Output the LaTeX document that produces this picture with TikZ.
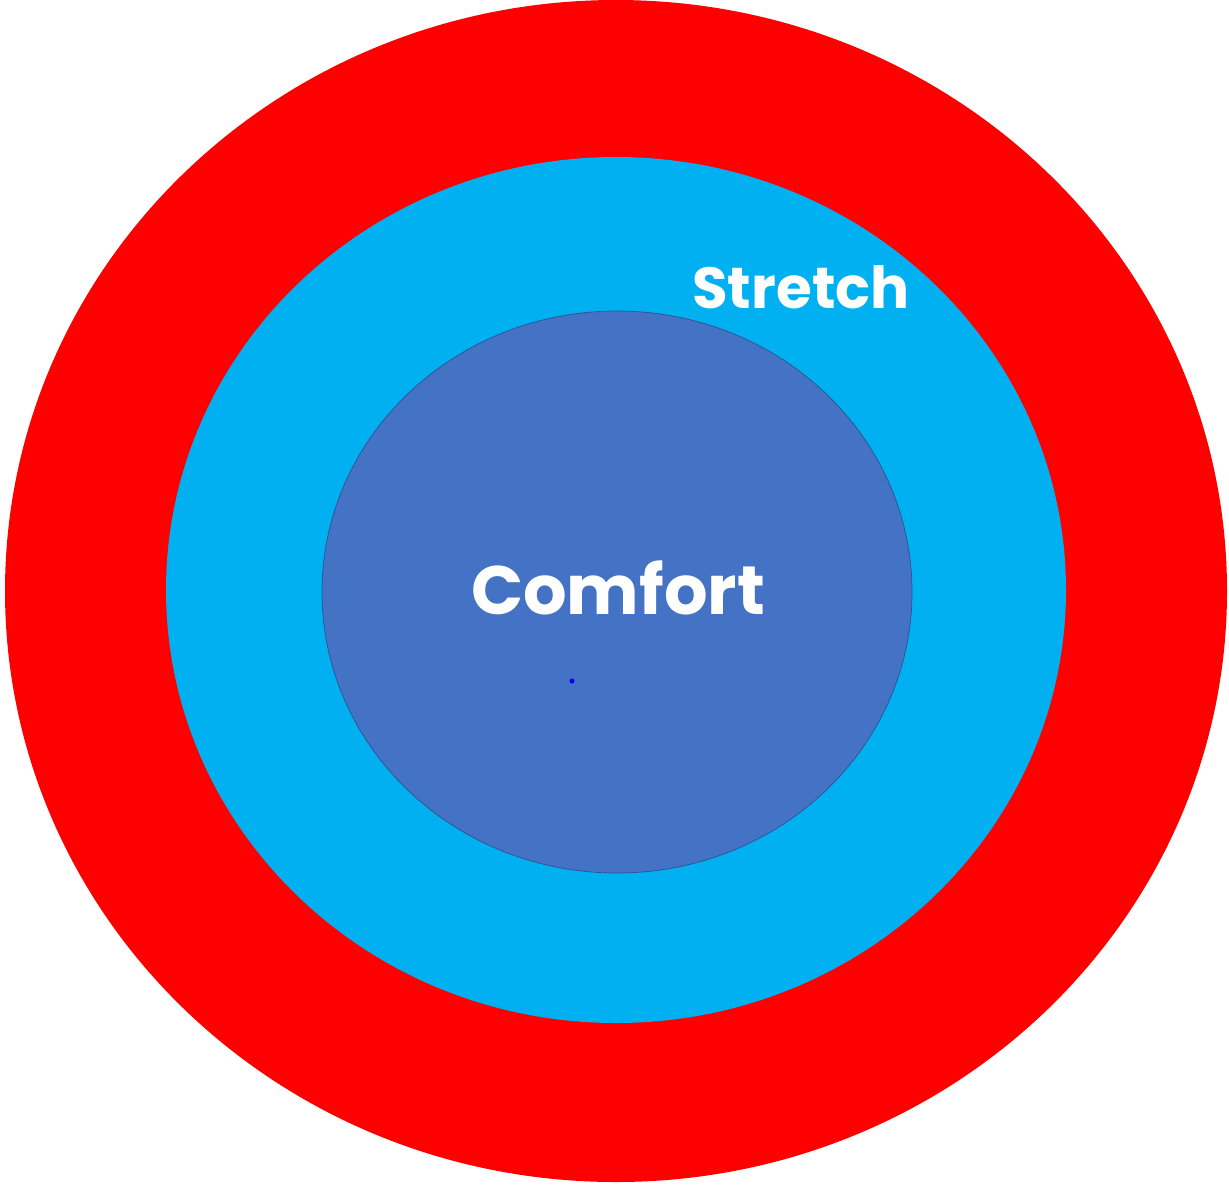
\documentclass[tikz,border=0pt]{standalone}
\usepackage{fontspec}
\setmainfont{Poppins}
\definecolor{zonered}{HTML}{FF0000}
\definecolor{zonecyan}{HTML}{00B0F0}
\definecolor{zoneblue}{HTML}{4472C4}
\definecolor{zoneedge}{HTML}{2F528F}
\begin{document}
\begin{tikzpicture}[x=0.02cm, y=-0.02cm,
  zonelabel/.style={text=white, inner sep=0pt}]
\useasboundingbox (0,0) rectangle (1229,1184);
% zones
\fill[zonered] (616,591) ellipse [x radius=611, y radius=591];
\fill[zonecyan] (616,590) ellipse [x radius=450, y radius=433];
\filldraw[fill=zoneblue, draw=zoneedge, line width=0.4pt] (617,592) ellipse [x radius=295, y radius=281];
% labels
\node[zonelabel, font=\bfseries\fontsize{39}{41}\selectfont] (comfort) at (618,588) {Comfort};
\node[zonelabel, font=\bfseries\fontsize{33}{35}\selectfont] (stretch) at (801,287) {Stretch};
% dot
\fill[blue] (572,681) circle [radius=2.5];
\end{tikzpicture}
\end{document}
